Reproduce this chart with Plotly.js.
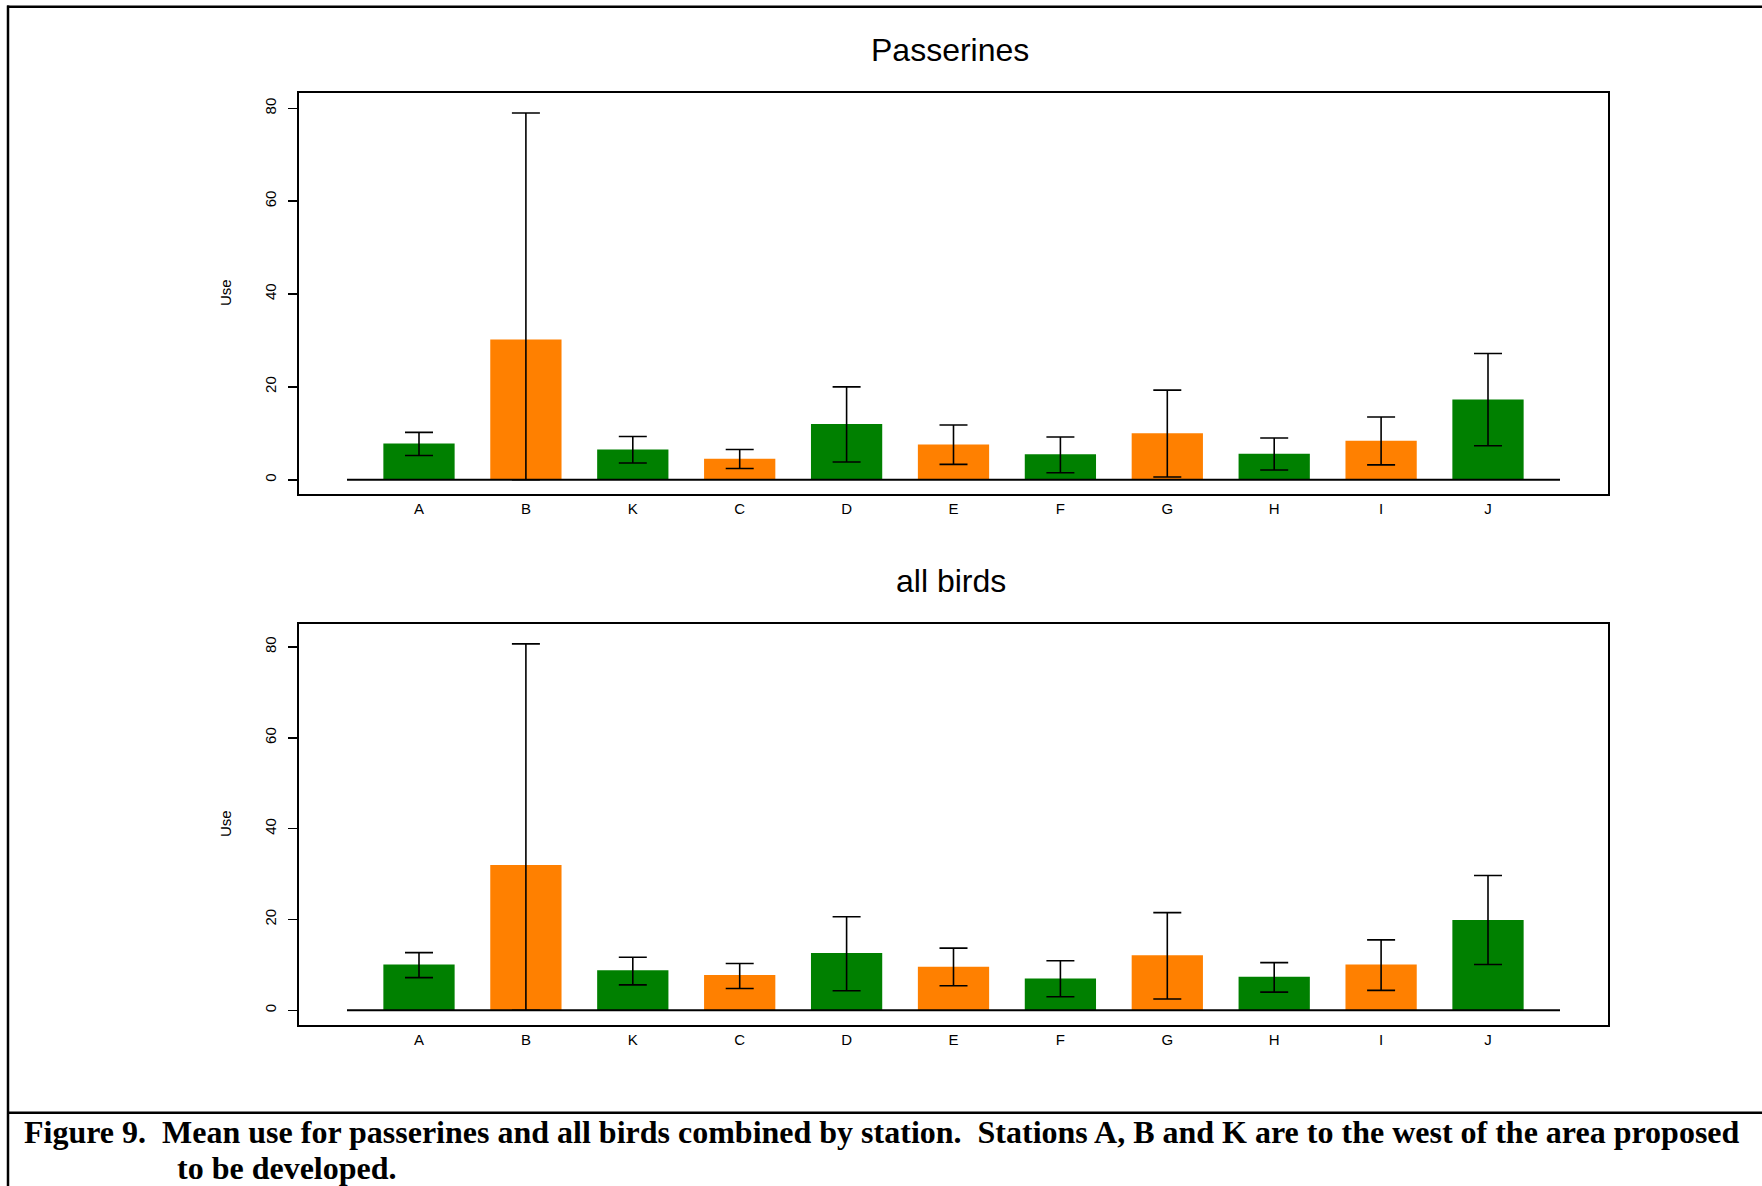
<!DOCTYPE html>
<html>
<head>
<meta charset="utf-8">
<script src="https://cdn.plot.ly/plotly-3.0.1.min.js"></script>
<style>html,body{margin:0;padding:0;background:#fff;}#chart{width:1762px;height:1186px;}</style>
</head>
<body>
<div id="chart"></div>
<script>
// ---- data ----
const categories = ['A', 'B', 'K', 'C', 'D', 'E', 'F', 'G', 'H', 'I', 'J'];
const barColors = ['#008000', '#FF8000', '#008000', '#FF8000', '#008000', '#FF8000',
                   '#008000', '#FF8000', '#008000', '#FF8000', '#008000'];

const passerinesMean  = [7.8, 30.2, 6.5, 4.5, 12.0, 7.6, 5.5, 10.0, 5.6, 8.4, 17.3];
const passerinesUpper = [10.2, 79.0, 9.3, 6.5, 20.0, 11.8, 9.2, 19.3, 9.0, 13.5, 27.2];
const passerinesLower = [5.2, 0.0, 3.6, 2.4, 3.8, 3.3, 1.5, 0.6, 2.1, 3.2, 7.3];

const allBirdsMean  = [10.1, 32.0, 8.8, 7.8, 12.6, 9.6, 7.0, 12.1, 7.4, 10.1, 19.9];
const allBirdsUpper = [12.7, 80.7, 11.7, 10.3, 20.6, 13.7, 10.9, 21.5, 10.5, 15.5, 29.7];
const allBirdsLower = [7.2, 0.0, 5.6, 4.8, 4.3, 5.4, 3.0, 2.5, 4.0, 4.4, 10.1];

const yTicks = [0, 20, 40, 60, 80];
const panelTitles = ['Passerines', 'all birds'];
const yLabel = 'Use';
const captionLine1 = 'Figure 9.\u00a0 Mean use for passerines and all birds combined by station.\u00a0 Stations A, B and K are to the west of the area proposed';
const captionLine2 = 'to be developed.';

// ---- build ----
const W = 1762, H = 1186;
const px = v => v / W;
const py = v => 1 - v / H;
const idx = categories.map((_, i) => i);

function barTrace(mean, upper, lower, xa, ya) {
  return {
    type: 'bar',
    x: idx,
    y: mean,
    xaxis: xa, yaxis: ya,
    marker: {color: barColors, line: {width: 0}},
    error_y: {
      type: 'data', symmetric: false,
      array: upper.map((u, i) => u - mean[i]),
      arrayminus: lower.map((l, i) => mean[i] - l),
      color: '#000', thickness: 1.6, width: 14
    },
    hoverinfo: 'skip',
    showlegend: false
  };
}

const data = [
  barTrace(passerinesMean, passerinesUpper, passerinesLower, 'x', 'y'),
  barTrace(allBirdsMean, allBirdsUpper, allBirdsLower, 'x2', 'y2')
];

const tickFont = {family: 'Liberation Sans, Arial, sans-serif', size: 15, color: '#000'};
const xRange = [-1.1225, categories.length - 1 + 1.1225];

function xAxis(anchor) {
  return {
    domain: [px(299), px(1608)],
    anchor: anchor,
    range: xRange,
    tickmode: 'array', tickvals: idx, ticktext: categories,
    ticks: '', showgrid: false, zeroline: false,
    showline: true, mirror: true, linecolor: '#000', linewidth: 2,
    tickfont: tickFont, ticklabelstandoff: 1.5
  };
}
function yAxis(anchor, domain, range) {
  return {
    domain: domain, anchor: anchor, range: range,
    tickmode: 'array', tickvals: yTicks, ticktext: yTicks.map(String),
    ticks: 'outside', ticklen: 9, tickwidth: 1.6, tickcolor: '#000',
    tickangle: -90, tickfont: tickFont, ticklabelstandoff: 6,
    showgrid: false, zeroline: false,
    showline: true, mirror: true, linecolor: '#000', linewidth: 2
  };
}

const barHalf = 0.6735;
const shapes = [
  // baselines under the bars
  {type: 'line', xref: 'x', yref: 'y', x0: -barHalf, x1: categories.length - 1 + barHalf, y0: 0, y1: 0, line: {color: '#000', width: 2}},
  {type: 'line', xref: 'x2', yref: 'y2', x0: -barHalf, x1: categories.length - 1 + barHalf, y0: 0, y1: 0, line: {color: '#000', width: 2}},
  // page frame
  {type: 'line', xref: 'paper', yref: 'paper', x0: px(7), x1: 1, y0: py(6.7), y1: py(6.7), line: {color: '#000', width: 2.5}},
  {type: 'line', xref: 'paper', yref: 'paper', x0: px(8), x1: px(8), y0: py(5.5), y1: 0, line: {color: '#000', width: 2.5}},
  {type: 'line', xref: 'paper', yref: 'paper', x0: px(7), x1: 1, y0: py(1112.7), y1: py(1112.7), line: {color: '#000', width: 2.5}}
];

const titleFont = {family: 'Liberation Sans, Arial, sans-serif', size: 32, color: '#000'};
const labelFont = {family: 'Liberation Sans, Arial, sans-serif', size: 15, color: '#000'};
const capFont = {family: 'Liberation Serif, Times New Roman, serif', size: 32, color: '#000', weight: 'bold'};

const annotations = [
  {text: panelTitles[0], xref: 'paper', yref: 'paper', x: px(950.5), y: py(50), xanchor: 'center', yanchor: 'middle', showarrow: false, font: titleFont},
  {text: panelTitles[1], xref: 'paper', yref: 'paper', x: px(951), y: py(581), xanchor: 'center', yanchor: 'middle', showarrow: false, font: titleFont},
  {text: yLabel, xref: 'paper', yref: 'paper', x: px(225), y: py(293), textangle: -90, xanchor: 'center', yanchor: 'middle', showarrow: false, font: labelFont},
  {text: yLabel, xref: 'paper', yref: 'paper', x: px(225), y: py(824), textangle: -90, xanchor: 'center', yanchor: 'middle', showarrow: false, font: labelFont},
  {text: '<b>' + captionLine1 + '</b>', xref: 'paper', yref: 'paper', x: px(22), y: py(1132), xanchor: 'left', yanchor: 'middle', showarrow: false, font: capFont},
  {text: '<b>' + captionLine2 + '</b>', xref: 'paper', yref: 'paper', x: px(175), y: py(1168), xanchor: 'left', yanchor: 'middle', showarrow: false, font: capFont}
];

const layout = {
  width: W, height: H,
  margin: {l: 0, r: 0, t: 0, b: 0, pad: 0},
  paper_bgcolor: '#fff', plot_bgcolor: '#fff',
  bargap: 1 - 2 / 3,
  xaxis: xAxis('y'),
  yaxis: yAxis('x', [py(493.5), py(93.3)], [-2.97, 83.23]),
  xaxis2: xAxis('y2'),
  yaxis2: yAxis('x2', [py(1025.3), py(624.3)], [-3.30, 85.0]),
  shapes: shapes,
  annotations: annotations,
  showlegend: false
};

Plotly.newPlot('chart', data, layout, {staticPlot: true, displayModeBar: false});
</script>
</body>
</html>
